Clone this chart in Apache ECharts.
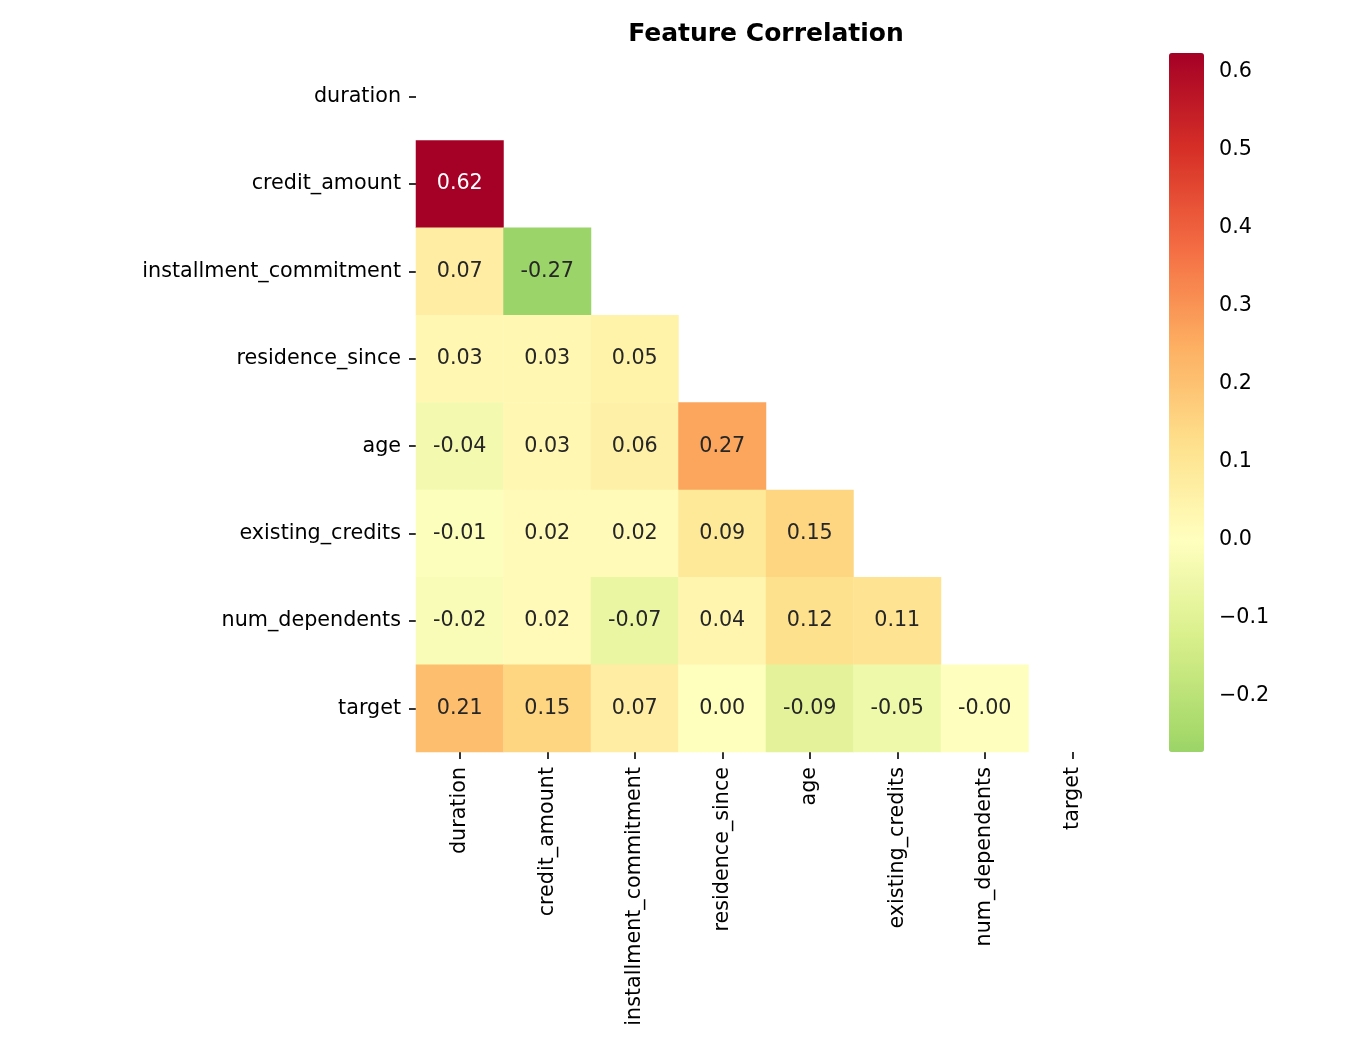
<!DOCTYPE html>
<html>
<head>
<meta charset="utf-8">
<script src="https://cdn.jsdelivr.net/npm/echarts@6/dist/echarts.min.js"></script>
<style>
html,body{margin:0;padding:0;background:#fff;}
#chart{width:1350px;height:1050px;}
</style>
</head>
<body>
<div id="chart"></div>
<script>
// ---- data ----
const features = ["duration","credit_amount","installment_commitment","residence_since","age","existing_credits","num_dependents","target"];
// lower triangle (row i has i values, columns 0..i-1)
const corrRows = [
  [],
  [0.6245],
  [0.07, -0.272],
  [0.03, 0.03, 0.05],
  [-0.04, 0.03, 0.06, 0.266],
  [-0.01, 0.02, 0.02, 0.09, 0.15],
  [-0.02, 0.02, -0.07, 0.04, 0.12, 0.11],
  [0.21, 0.15, 0.07, 0.002, -0.09, -0.05, -0.003]
];
const colorbarTicks = [-0.2,-0.1,0.0,0.1,0.2,0.3,0.4,0.5,0.6];

// ---- colormap (RdYlGn_r, centered at 0 as seaborn does) ----
const rdylgn = ["#a50026","#d73027","#f46d43","#fdae61","#fee08b","#ffffbf","#d9ef8b","#a6d96a","#66bd63","#1a9850","#006837"].reverse();
function hex2rgb(h){return [parseInt(h.slice(1,3),16),parseInt(h.slice(3,5),16),parseInt(h.slice(5,7),16)];}
function cmap(t){
  t=Math.max(0,Math.min(1,t));
  const p=t*(rdylgn.length-1); const i=Math.min(Math.floor(p),rdylgn.length-2); const f=p-i;
  const a=hex2rgb(rdylgn[i]), b=hex2rgb(rdylgn[i+1]);
  return [0,1,2].map(k=>a[k]+(b[k]-a[k])*f);
}
const allVals = corrRows.flat();
const vmin = Math.min(...allVals), vmax = Math.max(...allVals);
const vrange = Math.max(vmax, -vmin);
function colorOf(v){ return cmap(0.5 + v/(2*vrange)); }
function rgbStr(c){ return 'rgb('+c.map(x=>Math.round(x)).join(',')+')'; }
const stops = [];
const N = 80;
for (let k=0;k<=N;k++){ stops.push(rgbStr(colorOf(vmin+(vmax-vmin)*k/N))); }
function lum(c){
  const l=c.map(x=>{x/=255;return x<=0.03928?x/12.92:Math.pow((x+0.055)/1.055,2.4);});
  return 0.2126*l[0]+0.7152*l[1]+0.0722*l[2];
}

const heatData = [];
corrRows.forEach((row,i)=>row.forEach((v,j)=>{
  heatData.push({value:[j,i,v], label:{color: lum(colorOf(v))>0.408 ? '#262626' : '#ffffff'}});
}));

const FONT = 'DejaVu Sans';
const FS = 20.7;

const chart = echarts.init(document.getElementById('chart'), null, {renderer:'canvas'});
chart.setOption({
  backgroundColor:'#ffffff',
  animation:false,
  title:{
    text:'Feature Correlation', left:761, textAlign:'center', top:17,
    textStyle:{fontFamily:FONT, fontWeight:'bold', fontSize:25, color:'#000'}
  },
  grid:[
    {left:416, top:53, width:700, height:699, containLabel:false},
    {left:1169, top:53, width:35, height:699, containLabel:false}
  ],
  xAxis:[
    {type:'category', data:features, gridIndex:0, position:'bottom',
     axisLine:{show:false}, splitLine:{show:false}, splitArea:{show:false},
     axisTick:{show:true, alignWithLabel:true, length:7, lineStyle:{color:'#000', width:1.6}},
     axisLabel:{rotate:90, margin:15, fontFamily:FONT, fontSize:FS, color:'#000', interval:0}},
    {type:'value', gridIndex:1, show:false, min:0, max:1}
  ],
  yAxis:[
    {type:'category', data:features, gridIndex:0, inverse:true,
     axisLine:{show:false}, splitLine:{show:false}, splitArea:{show:false},
     axisTick:{show:true, alignWithLabel:true, length:7, lineStyle:{color:'#000', width:1.6}},
     axisLabel:{margin:15, padding:[3,0,0,0], fontFamily:FONT, fontSize:FS, color:'#000', interval:0}},
    {type:'value', gridIndex:1, position:'right', min:vmin, max:vmax,
     axisLine:{show:false}, splitLine:{show:false},
     axisTick:{show:true, length:7, customValues:colorbarTicks, lineStyle:{color:'#000', width:1.6}},
     axisLabel:{show:true, margin:15, padding:[3,0,0,0], customValues:colorbarTicks, fontFamily:FONT, fontSize:FS, color:'#000',
       formatter:function(v){ const s=(Math.abs(v)<1e-9?0:v).toFixed(1); return s.replace('-','\u2212'); }}}
  ],
  visualMap:{
    type:'continuous', min:vmin, max:vmax, calculable:false, seriesIndex:0,
    orient:'vertical', left:1169, top:53, itemWidth:35, itemHeight:699, padding:0,
    hoverLink:false, showLabel:false,
    inRange:{color:stops}
  },
  series:[
    {type:'heatmap', xAxisIndex:0, yAxisIndex:0, data:heatData,
     itemStyle:{borderWidth:0},
     label:{show:true, fontFamily:FONT, fontSize:FS, formatter:function(p){return p.value[2].toFixed(2);}},
     emphasis:{disabled:true}},
    {type:'scatter', xAxisIndex:1, yAxisIndex:1, data:[], silent:true}
  ]
});
</script>
</body>
</html>
